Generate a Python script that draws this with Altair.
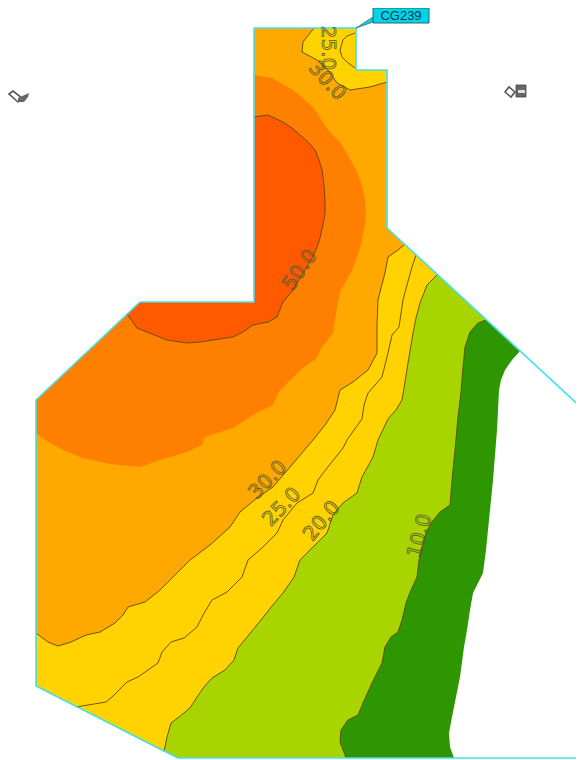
import altair as alt
import pandas as pd

# map positions: [easting, northing]
outline_top = [[36,400],[140,302],[254,302],[254,28],[356,28],[356,70],[387,70],[387,228]]
outline_right = [[387,228],[584,410]]
outline_bottom = [[584,758],[178,758],[36,686],[36,400]]

edge_low = [[520,351],[512,360],[505,370],[501,380],[499,390],[498,410],[497,430],[495,455],[493,480],[490,510],[488,530],[486,550],[484,565],[483,573],[478,583],[473,593],[470,610],
            [467,630],[464,647],[462,662],[460,677],[456,697],[452,717],[449,733],[450,747],[454,758]]
c10 = [[486,320],[478,323],[470,332],[465,347],[463,367],[461,392],[458,417],[455,450],[452,480],[450,505],[440,512],[431,523],
       [426,533],[423,543],[419,560],[417,577],[411,590],[406,603],[402,620],[398,632],[391,637],[385,647],[382,663],[377,673],[372,683],[363,703],
       [358,715],[348,720],[341,730],[340,742],[346,758]]
c20 = [[437,275],[427,285],[420,303],[416,318],[413,333],[408,363],[405,382],[402,400],[396,410],[388,419],[378,440],[373,457],[362,477],[357,493],
       [343,503],[333,515],[327,533],[318,542],[310,550],[300,560],[294,577],[283,593],[272,606],[261,620],[238,648],[234,660],[225,670],
       [212,678],[204,687],[197,697],[190,708],[179,717],[171,723],[167,737],[164,752]]
c25 = [[416,255],[412,267],[407,285],[403,300],[399,327],[392,335],[388,353],[385,365],[382,377],[368,393],[364,405],[362,419],[354,430],[347,440],[343,448],
       [327,468],[318,480],[313,493],[297,503],[283,520],[277,533],[263,547],[248,560],[242,577],[227,592],[212,600],
       [203,615],[197,627],[184,638],[171,642],[162,652],[158,663],[138,677],[127,682],[112,697],[106,702],[76,707]]
c30 = [[404,245],[398,250],[388,257],[385,273],[381,288],[378,300],[377,325],[377,353],[368,370],[353,382],[340,390],[335,410],[325,425],
       [313,440],[290,467],[273,487],[257,498],[240,512],[230,527],[210,545],[190,560],[182,568],[160,590],[145,602],
       [128,607],[123,615],[115,623],[100,632],[86,635],[71,642],[58,646],[48,642],[36,633]]
c40 = [[36,433],[48,442],[63,450],[82,458],[110,464],[140,467],[160,460],[187,452],[202,445],[205,437],[233,428],
       [253,415],[273,405],[278,393],[290,380],[303,368],[317,358],[320,350],[333,333],[337,307],[340,292],[346,281],[352,270],[358,255],[362,240],
       [365,225],[366,215],[365,200],[362,185],[356,170],[348,155],[340,142],[328,130],[313,107],[293,90],[272,78],[254,75]]
c50 = [[254,117],[268,115],[283,122],[292,128],[300,135],[308,142],[315,150],[319,160],[322,170],[324,185],[325,200],[325,213],[323,225],[320,238],[316,250],[311,260],[305,270],[293,290],
       [283,302],[277,317],[268,322],[253,325],[243,332],[233,337],[213,340],[200,342],[187,343],[167,340],[152,334],[137,328],[127,314]]
top30 = [[314,28],[303,42],[302,52],[317,60],[328,70],[337,83],[350,90],[370,87],[387,82]]
top25 = [[355,33],[347,36],[343,40],[340,50],[342,57],[347,62],[355,68]]

callout_box = [[373,8],[429,8],[429,23],[373,23]]
callout_tail = [[373,17],[373,22],[356,28]]
icon_a_frame = [[9,94],[13,91],[22,98],[18,102]]
icon_a_body = [[18,98],[29,93],[28,97],[24,102],[18,102]]
icon_b_frame = [[505,92],[509,87],[515,92],[511,97]]
icon_b_body = [[516,85],[526,85],[526,97],[516,97]]
icon_b_band = [[518,90],[525,90],[525,93],[518,93]]

labels = ["30.0", "25.0", "20.0", "10.0", "50.0", "30.0", "25.0", "CG239"]
label_x = [268, 282, 322, 420, 300, 327, 328, 401]
label_y = [480, 507, 521, 536, 270, 81, 48, 16]
label_angle = [314, 314, 310, 285, 305, 48, 90, 0]

ID = dict(type="identity", scale=1, translate=[-8, -8])

def poly(points, fill, stroke=None, width=1.0):
    ring = points + [points[0]]
    feat = {"type": "Feature", "properties": {}, "geometry": {"type": "Polygon", "coordinates": [ring]}}
    kw = dict(fill=fill, strokeWidth=width, stroke=stroke if stroke else "transparent")
    return alt.Chart(alt.Data(values=[feat])).mark_geoshape(**kw).project(**ID)

def line(points, stroke, width=1.0, opacity=1.0):
    feat = {"type": "Feature", "properties": {}, "geometry": {"type": "LineString", "coordinates": points}}
    return alt.Chart(alt.Data(values=[feat])).mark_geoshape(
        filled=False, stroke=stroke, strokeWidth=width, opacity=opacity, strokeJoin="round"
    ).project(**ID)

rest_of_outline = [[178,758],[36,686],[36,400],[140,302],[254,302],[254,28],[356,28],[356,70],[387,70],[387,228]]
rest_left = [[36,400],[140,302],[254,302],[254,28],[356,28],[356,70],[387,70],[387,228]]

layers = [
    poly(edge_low + rest_of_outline, "#2E9600"),
    poly(c10 + rest_of_outline, "#A8D500"),
    poly(c20 + rest_of_outline[1:], "#FFD200"),
    poly(c30 + rest_left, "#FFA800"),
    poly(c40 + [[254,302],[140,302],[36,400]], "#FF8000"),
    poly(c50 + [[140,302],[254,302]], "#FF5A00"),
    poly(top30 + [[387,70],[356,70],[356,28]], "#FFD200"),
]
CONTOUR = "#5C4A12"
for c in [c10, c20, c25, c30, c50, top30, top25]:
    layers.append(line(c, CONTOUR, 1.0, 0.9))
for o in [outline_top, outline_right, outline_bottom]:
    layers.append(line(o, "#45E0E6", 1.6))

layers += [
    poly(callout_tail, "#00D4E8", "#3A6A70", 0.8),
    poly(callout_box, "#00D4E8", "#2A6A70", 1.0),
    poly(icon_a_frame, "#FFFFFF", "#555555", 1.6),
    poly(icon_a_body, "#666666"),
    poly(icon_b_frame, "#FFFFFF", "#555555", 1.6),
    poly(icon_b_body, "#666666", "#444444", 0.8),
    poly(icon_b_band, "#DDDDDD"),
]

df = pd.DataFrame({"t": labels, "x": label_x, "y": label_y, "a": label_angle})
contour_labels = alt.Chart(df[df.t != "CG239"]).mark_text(
    font="DejaVu Sans", fontSize=20, fillOpacity=0, stroke="#5A5A30", strokeWidth=0.8,
    align="center", baseline="middle"
).encode(longitude="x:Q", latitude="y:Q", text="t:N", angle=alt.Angle("a:Q", scale=None)
).project(**ID)
tag = alt.Chart(df[df.t == "CG239"]).mark_text(
    font="Liberation Sans", fontSize=13, fill="#0A3A44", align="center", baseline="middle"
).encode(longitude="x:Q", latitude="y:Q", text="t:N"
).project(**ID)
layers += [contour_labels, tag]

chart = alt.layer(*layers).properties(
    width=568, height=752, padding=0, background="white",
    autosize=alt.AutoSizeParams(type="none")
).configure_view(stroke=None)

chart.save("out.html", embed_options={"renderer": "svg", "actions": False})
